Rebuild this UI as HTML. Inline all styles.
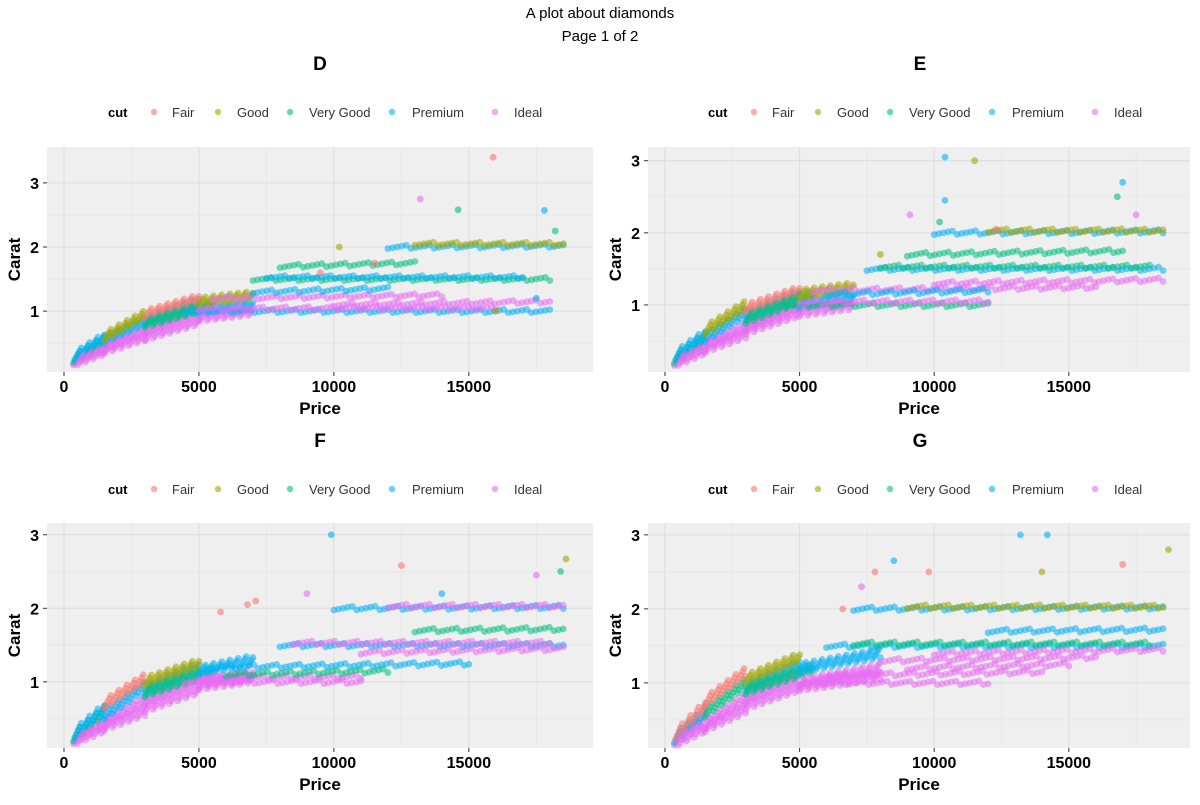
<!DOCTYPE html>
<html><head><meta charset="utf-8"><style>
body{margin:0;background:#fff;font-family:"Liberation Sans",sans-serif}
svg text{font-family:"Liberation Sans",sans-serif}
</style></head><body>
<svg id="chart" width="1200" height="800">
<text x="600" y="18" text-anchor="middle" font-size="15">A plot about diamonds</text>
<text x="600" y="41" text-anchor="middle" font-size="15">Page 1 of 2</text>
</svg>
<script>
const cutNames = ["Fair","Good","Very Good","Premium","Ideal"];
const cutColors = ["#F8766D","#A3A500","#00BF7D","#00B0F6","#E76BF3"];
const xTicks = [0,5000,10000,15000];
const yTicks = [1,2,3];
const panelNames = ["D","E","F","G"];
// curve stripes: [priceStart, priceEnd, caratStart, caratEnd, cutIndex]
const curveD = [[350,1500,.22,.45,4],[350,1500,.25,.55,2],[400,1500,.3,.6,3],[500,1500,.22,.38,4],[1500,3000,.45,.7,4],[1500,3000,.55,.85,3],[1500,3000,.6,.95,1],[1500,3000,.4,.6,4],[3000,5000,.7,1.0,4],[3000,5000,.85,1.15,3],[3000,5000,.95,1.2,0],[3000,5000,.6,.85,4],[3000,5500,.8,1.1,2],[5000,7000,1.0,1.1,3],[5000,7000,1.15,1.25,1],[5000,7000,.9,1.0,4]];
const curveE = [[350,1500,.22,.45,4],[350,1500,.25,.55,2],[400,1500,.3,.6,3],[500,1500,.22,.38,4],[1500,3000,.45,.7,4],[1500,3000,.55,.9,3],[1500,3000,.65,1.0,1],[1500,3000,.4,.6,4],[3000,5000,.7,1.0,4],[3000,5000,.85,1.15,3],[3000,5000,.95,1.2,0],[3000,5000,.65,.9,4],[3000,5500,.8,1.15,2],[5000,7000,1.0,1.1,3],[5000,7000,1.15,1.25,1],[5000,7000,.9,1.0,4]];
const curveF = [[350,1500,.22,.45,4],[350,1500,.25,.6,2],[400,1500,.3,.65,3],[500,1500,.22,.38,4],[1500,3000,.45,.75,4],[1500,3000,.55,.95,3],[1500,3000,.7,1.05,0],[1500,3000,.4,.6,4],[3000,5000,.75,1.05,4],[3000,5000,.9,1.2,3],[3000,5000,1.0,1.25,1],[3000,5000,.65,.9,4],[3000,5500,.85,1.15,2],[5000,7000,1.0,1.1,4],[5000,7000,1.15,1.3,3],[5000,7000,.95,1.05,4]];
const curveG = [[350,1500,.22,.5,4],[350,1500,.25,.6,3],[400,1500,.3,.7,0],[500,1500,.22,.4,4],[1500,3000,.45,.8,4],[1500,3000,.6,1.0,2],[1500,3000,.75,1.15,0],[1500,3000,.4,.65,4],[3000,5000,.8,1.1,4],[3000,5000,.95,1.25,3],[3000,5000,1.05,1.35,1],[3000,5000,.7,.95,4],[3000,5500,.9,1.2,2],[5000,8000,1.0,1.2,4],[5000,8000,1.2,1.4,3],[5000,8000,.95,1.1,4]];
// bands: [priceStart, priceEnd, caratStart, caratEnd, cutIndex]
const bandsD = [[4500,18000,1.0,1.0,3],[5000,16000,1.04,1.05,4],[7000,18000,1.5,1.5,2],[7500,17000,1.53,1.53,3],[5500,14000,1.2,1.25,4],[10000,18000,1.1,1.15,4],[12000,18500,2.0,2.02,3],[13000,18500,2.05,2.05,1],[7000,12000,1.3,1.35,3],[8000,13000,1.7,1.75,2]];
const bandsE = [[4500,12000,1.0,1.0,2],[5000,12000,1.04,1.05,4],[7500,18500,1.5,1.5,3],[8000,18000,1.53,1.53,2],[5500,16000,1.2,1.25,4],[10000,18500,1.3,1.35,4],[10000,18500,2.0,2.02,3],[12000,18500,2.03,2.03,1],[6000,12000,1.15,1.2,3],[9000,17000,1.7,1.75,2]];
const bandsF = [[4500,11000,1.0,1.0,4],[5000,11000,1.05,1.07,4],[8000,18500,1.5,1.5,3],[8500,18000,1.53,1.53,4],[5500,15000,1.2,1.25,3],[11000,18500,1.4,1.45,4],[10000,18500,2.0,2.02,3],[12000,18500,2.03,2.03,4],[13000,18500,1.7,1.72,2],[6000,12000,1.1,1.15,2]];
const bandsG = [[5000,12000,1.0,1.0,4],[6000,14000,1.1,1.15,4],[6000,18500,1.5,1.5,3],[7000,18000,1.53,1.53,2],[8000,16000,1.3,1.35,4],[10000,18500,1.4,1.45,4],[7000,18500,2.0,2.02,3],[9000,18500,2.03,2.03,1],[12000,18500,1.7,1.72,3],[9000,15000,1.2,1.25,4]];
// outliers: [price, carat, cutIndex]
const pointsD = [[15900,3.4,0],[13200,2.75,4],[14600,2.58,2],[17800,2.57,3],[10200,2.0,1],[18200,2.25,2],[16000,1.0,1],[11500,1.75,0],[9500,1.6,0],[17500,1.2,3]];
const pointsE = [[10400,3.05,3],[11500,3.0,1],[10400,2.45,3],[17000,2.7,3],[16800,2.5,2],[9100,2.25,4],[10200,2.15,2],[17500,2.25,4],[12300,2.05,0],[8000,1.7,1]];
const pointsF = [[9900,3.0,3],[12500,2.58,0],[18600,2.67,1],[5800,1.95,0],[6800,2.05,0],[7100,2.1,0],[17500,2.45,4],[14000,2.2,3],[9000,2.2,4],[18400,2.5,2]];
const pointsG = [[13200,3.0,3],[14200,3.0,3],[18700,2.8,1],[8500,2.65,3],[7300,2.3,4],[7800,2.5,0],[9800,2.5,0],[17000,2.6,0],[14000,2.5,1],[6600,2.0,0]];
const curves=[curveD,curveE,curveF,curveG], bands=[bandsD,bandsE,bandsF,bandsG], pts=[pointsD,pointsE,pointsF,pointsG];
const geo=[{x0:47,x1:593,y0:147,y1:372,xmin:-630,xmax:19600,ymin:0.05,ymax:3.56,ty:62,ly:112},
{x0:648,x1:1190,y0:147,y1:372,xmin:-630,xmax:19500,ymin:0.07,ymax:3.19,ty:62,ly:112},
{x0:47,x1:593,y0:523,y1:748,xmin:-630,xmax:19600,ymin:0.10,ymax:3.16,ty:439,ly:489},
{x0:648,x1:1190,y0:523,y1:748,xmin:-630,xmax:19500,ymin:0.12,ymax:3.16,ty:439,ly:489}];
const svg=document.getElementById('chart');const NS='http://www.w3.org/2000/svg';
function mk(t,a,p){const e=document.createElementNS(NS,t);for(const k in a)e.setAttribute(k,a[k]);(p||svg).appendChild(e);return e;}
geo.forEach((g,i)=>{
 const sx=v=>g.x0+(v-g.xmin)/(g.xmax-g.xmin)*(g.x1-g.x0);
 const sy=v=>g.y1-(v-g.ymin)/(g.ymax-g.ymin)*(g.y1-g.y0);
 const grp=mk('g',{});
 
 
 const t=mk('text',{x:i%2?920:320,y:g.ty+8,'text-anchor':'middle','font-size':19,'font-weight':'bold'},grp);t.textContent=panelNames[i];
 
 
 const off=i%2?600:0;
 const lg=mk('g',{},grp);
 
 
 const lt=mk('text',{x:108+off,y:g.ly+5,'font-size':13,'font-weight':'bold'},lg);lt.textContent='cut';
 const dx=[154,218,290,392,495], tx=[172,237,309,412,514];
 cutNames.forEach((n,k)=>{const e=mk('g',{},lg);
  
  
  mk('circle',{cx:dx[k]+off,cy:g.ly,r:3.2,fill:cutColors[k],opacity:0.6},e);
  const tt=mk('text',{x:tx[k]+off,y:g.ly+5,'font-size':13,fill:'#333'},e);tt.textContent=n;});
 const bg=mk('rect',{x:g.x0,y:g.y0,width:g.x1-g.x0,height:g.y1-g.y0,fill:'#EFEFEF'},grp);
 
 
 [2500,7500,12500,17500].forEach(v=>mk('line',{x1:sx(v),x2:sx(v),y1:g.y0,y2:g.y1,stroke:'#E6E6E6','stroke-width':0.8},grp));
 [0.5,1.5,2.5].forEach(v=>{if(v>g.ymin&&v<g.ymax)mk('line',{x1:g.x0,x2:g.x1,y1:sy(v),y2:sy(v),stroke:'#E6E6E6','stroke-width':0.8},grp)});
 xTicks.forEach(v=>{mk('line',{x1:sx(v),x2:sx(v),y1:g.y0,y2:g.y1,stroke:'#DCDCDC','stroke-width':1},grp);
  mk('line',{x1:sx(v),x2:sx(v),y1:g.y1,y2:g.y1+4,stroke:'#333'},grp);
  const l=mk('text',{x:sx(v),y:g.y1+20,'text-anchor':'middle','font-size':16,'font-weight':'bold'},grp);l.textContent=v;
  
  });
 yTicks.forEach(v=>{mk('line',{x1:g.x0,x2:g.x1,y1:sy(v),y2:sy(v),stroke:'#DCDCDC','stroke-width':1},grp);
  mk('line',{x1:g.x0-4,x2:g.x0,y1:sy(v),y2:sy(v),stroke:'#333'},grp);
  const l=mk('text',{x:g.x0-8,y:sy(v)+6,'text-anchor':'end','font-size':16,'font-weight':'bold'},grp);l.textContent=v;
  
  });
 const xt=mk('text',{x:(g.x0+g.x1)/2,y:g.y1+42,'text-anchor':'middle','font-size':17,'font-weight':'bold'},grp);xt.textContent='Price';
 
 
 const yx=g.x0-27, yy=(g.y0+g.y1)/2;
 const yt=mk('text',{x:yx,y:yy,'text-anchor':'middle','font-size':17,'font-weight':'bold',transform:`rotate(-90 ${yx} ${yy})`},grp);yt.textContent='Carat';
 
 
 const pg=mk('g',{},grp);
 
 
 const stripe=(s,step,spread)=>{const n=Math.max(1,Math.round((s[1]-s[0])/step));
  for(let k=0;k<=n;k++){const f=k/n;const p=s[0]+(s[1]-s[0])*f;const c=s[2]+(s[3]-s[2])*f;
   const c2=c+((k%5)-2)*spread;
   const d=mk('circle',{cx:sx(p),cy:sy(c2),r:3.4,fill:cutColors[s[4]],opacity:0.55},pg);
   
   }};
 curves[i].forEach(s=>stripe(s,60,0.03));
 bands[i].forEach(s=>stripe(s,170,0.012));
 pts[i].forEach(p=>{const d=mk('circle',{cx:sx(p[0]),cy:sy(p[1]),r:3.4,fill:cutColors[p[2]],opacity:0.6},pg);
  
  });
});
</script>
</body></html>
